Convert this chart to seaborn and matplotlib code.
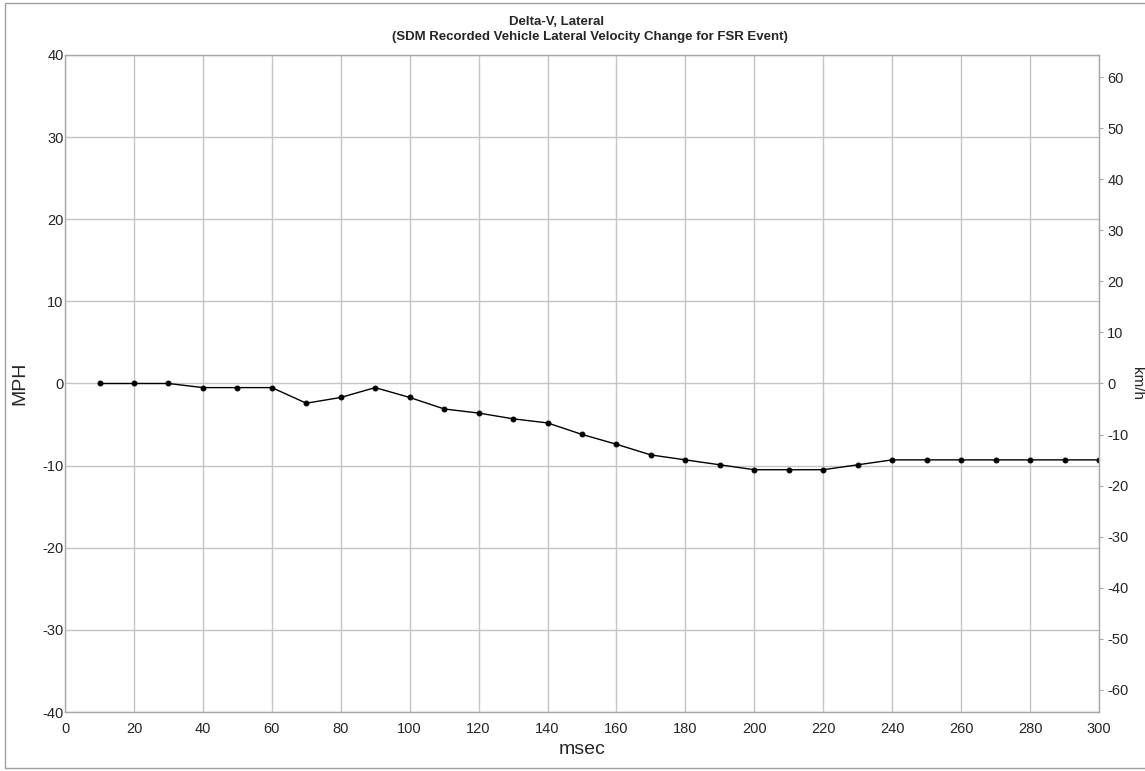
import numpy as np
import pandas as pd
import matplotlib
matplotlib.use("Agg")
import matplotlib.pyplot as plt
import seaborn as sns
from matplotlib.patches import Rectangle

# Recorded lateral delta-V (MPH) at each 10 ms step
msec = [10, 20, 30, 40, 50, 60, 70, 80, 90, 100,
        110, 120, 130, 140, 150, 160, 170, 180, 190, 200,
        210, 220, 230, 240, 250, 260, 270, 280, 290, 300]
mph = [0.0, 0.0, 0.0, -0.5, -0.5, -0.5, -2.4, -1.7, -0.5, -1.7,
       -3.1, -3.6, -4.3, -4.8, -6.2, -7.4, -8.7, -9.3, -9.9, -10.5,
       -10.5, -10.5, -9.9, -9.3, -9.3, -9.3, -9.3, -9.3, -9.3, -9.3]

x_ticks = list(range(0, 301, 20))
y_ticks = list(range(-40, 41, 10))
kmh_ticks = list(range(-60, 61, 10))

df = pd.DataFrame({'msec': msec, 'mph': mph})

sns.set_style("white")
plt.rcParams['font.family'] = ['Liberation Sans', 'DejaVu Sans']
plt.rcParams['axes.unicode_minus'] = False

fig = plt.figure(figsize=(11.45, 7.71), dpi=100)
ax = fig.add_axes([0.0568, 0.0765, 0.9030, 0.8522])

sns.lineplot(data=df, x='msec', y='mph', ax=ax, color='black', linewidth=1.0,
             marker='o', markersize=3.5, markeredgecolor='black')

ax.set_xlim(0, 300)
ax.set_ylim(-40, 40)
ax.set_xticks(x_ticks)
ax.set_yticks(y_ticks)
ax.grid(True, color='#c4c4c4', linewidth=1.0)
ax.tick_params(axis='x', length=0, pad=7, labelsize=10.5)
ax.tick_params(axis='y', length=0, pad=1, labelsize=10.5)
ax.set_xlabel('msec', fontsize=14, labelpad=4)
ax.set_ylabel('MPH', fontsize=14, va='center', ha='center')
ax.yaxis.set_label_coords(-0.0435, 0.5)
for sp in ax.spines.values():
    sp.set_color('#a8a8a8')
    sp.set_linewidth(1.0)

# secondary km/h axis
ax2 = ax.twinx()
ax2.set_ylim(-40 * 1.609344, 40 * 1.609344)
ax2.set_yticks(kmh_ticks)
ax2.tick_params(axis='y', length=3, width=0.8, color='#a8a8a8', pad=3, labelsize=10.5)
ax2.set_ylabel('km/h', fontsize=11, rotation=270, va='center', ha='center')
ax2.yaxis.set_label_coords(1.0365, 0.5)
for sp in ax2.spines.values():
    sp.set_visible(False)

fig.text(557 / 1145, 1 - 22 / 771, 'Delta-V, Lateral', ha='center', va='center',
         fontsize=9.5, fontweight='bold')
fig.text(590 / 1145, 1 - 37 / 771,
         '(SDM Recorded Vehicle Lateral Velocity Change for FSR Event)',
         ha='center', va='center', fontsize=9.5, fontweight='bold')

# outer frame (right edge falls just outside the canvas)
fig.patches.append(Rectangle((5 / 1145, 3 / 771), 1145 / 1145, 765 / 771,
                             transform=fig.transFigure, fill=False,
                             edgecolor='#a0a0a0', linewidth=1.0))

fig.savefig('out.png', dpi=100, facecolor='white')
